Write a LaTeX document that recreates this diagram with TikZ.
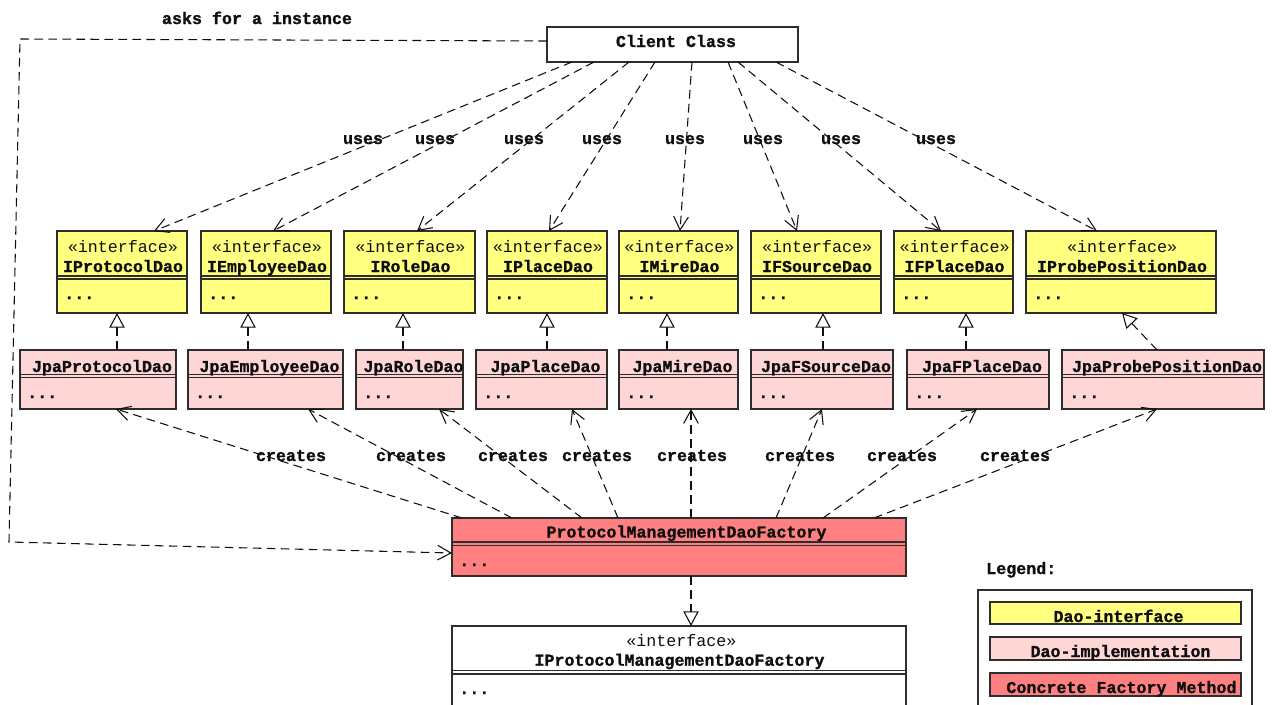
\documentclass[tikz,border=0pt]{standalone}
\usepackage{fontspec}
\setmonofont{Liberation Mono}[BoldFeatures={FakeBold=1.2}]
\usetikzlibrary{arrows.meta,calc,fit}

\definecolor{ifacefill}{RGB}{255,255,128}
\definecolor{implfill}{RGB}{255,214,214}
\definecolor{factfill}{RGB}{255,128,128}
\definecolor{framecol}{RGB}{45,45,45}
\definecolor{inkcol}{RGB}{15,15,15}

\tikzset{
  box/.style={draw=framecol, line width=1pt, inner sep=0pt, outer sep=0pt},
  sepline/.style={draw=framecol, line width=1pt},
  lbl/.style={font=\ttfamily\bfseries\fontsize{12.5pt}{14pt}\selectfont, text=inkcol, inner sep=0pt, anchor=base},
  stereo/.style={font=\ttfamily\fontsize{12.5pt}{14pt}\selectfont, text=inkcol, inner sep=0pt, anchor=base},
  dots/.style={lbl, anchor=base west},
  dep/.style={draw=inkcol, line width=0.8pt, dash pattern=on 6.5pt off 4pt,
    -{Straight Barb[length=10pt,width=11pt,line width=0.8pt]}},
  realize/.style={draw=inkcol, line width=0.8pt, dash pattern=on 6.5pt off 4pt,
    -{Triangle[length=11pt,width=11.5pt,fill=white,line width=0.8pt]}},
}

% interface box: name, left, right, class name
\newcommand\ifacebox[4]{%
  \node[box, fill=ifacefill, fit={(#2,231) (#3,313)}] (#1) {};
  \path[sepline] ($(#1.north west)+(0,45)$) -- ($(#1.north east)+(0,45)$)
                 ($(#1.north west)+(0,48)$) -- ($(#1.north east)+(0,48)$);
  \node[stereo] (#1-st) at ($(#1.north)+(1,21)$) {«interface»};
  \node[lbl] (#1-nm) at ($(#1.north)+(1,41)$) {#4};
  \node[dots] (#1-dt) at ($(#1.north west)+(7,68)$) {...};
}
% implementation box: name, left, right, class name
\newcommand\implbox[4]{%
  \node[box, fill=implfill, fit={(#2,350) (#3,409)}] (#1) {};
  \path[sepline] ($(#1.north west)+(0,24.5)$) -- ($(#1.north east)+(0,24.5)$)
                 ($(#1.north west)+(0,27.5)$) -- ($(#1.north east)+(0,27.5)$);
  \node[lbl] (#1-nm) at ($(#1.north)+(4,22)$) {#4};
  \node[dots] (#1-dt) at ($(#1.north west)+(7,48)$) {...};
}

\begin{document}
\begin{tikzpicture}[x=0.75pt,y=-0.75pt]
\useasboundingbox (0,0) rectangle (1278,704);
\clip (0,0) rectangle (1278,704);
\fill[white] (0,0) rectangle (1278,704);

% client
\node[box, fill=white, fit={(547,27) (798,62)}] (cc) {};
\node[lbl] (cc-nm) at ($(cc.north)+(3.5,20)$) {Client Class};

% interfaces
\ifacebox{i1}{57}{187}{IProtocolDao}
\ifacebox{i2}{201}{331}{IEmployeeDao}
\ifacebox{i3}{344}{475}{IRoleDao}
\ifacebox{i4}{487}{607}{IPlaceDao}
\ifacebox{i5}{619}{738}{IMireDao}
\ifacebox{i6}{751}{881}{IFSourceDao}
\ifacebox{i7}{894}{1013}{IFPlaceDao}
\ifacebox{i8}{1026}{1216}{IProbePositionDao}

% implementations
\implbox{m1}{20}{176}{JpaProtocolDao}
\implbox{m2}{188}{343}{JpaEmployeeDao}
\implbox{m3}{356}{463}{JpaRoleDao}
\implbox{m4}{476}{607}{JpaPlaceDao}
\implbox{m5}{619}{738}{JpaMireDao}
\implbox{m6}{751}{893}{JpaFSourceDao}
\implbox{m7}{907}{1049}{JpaFPlaceDao}
\implbox{m8}{1062}{1264}{JpaProbePositionDao}

% concrete factory
\node[box, fill=factfill, fit={(452,518) (906,576)}] (fac) {};
\path[sepline] ($(fac.north west)+(0,24)$) -- ($(fac.north east)+(0,24)$)
               ($(fac.north west)+(0,27.3)$) -- ($(fac.north east)+(0,27.3)$);
\node[lbl] (fac-nm) at ($(fac.north)+(7.5,19.5)$) {ProtocolManagementDaoFactory};
\node[dots] (fac-dt) at ($(fac.north west)+(7,48)$) {...};

% factory interface
\node[box, fill=white, fit={(452,626) (906,740)}] (ipm) {};
\path[sepline] ($(ipm.north west)+(0,44.7)$) -- ($(ipm.north east)+(0,44.7)$)
               ($(ipm.north west)+(0,48)$) -- ($(ipm.north east)+(0,48)$);
\node[stereo] (ipm-st) at ($(ipm.north)+(2.5,20.7)$) {«interface»};
\node[lbl] (ipm-nm) at ($(ipm.north)+(0.5,39.7)$) {IProtocolManagementDaoFactory};
\node[dots] (ipm-dt) at ($(ipm.north west)+(7,68)$) {...};

% legend
\node[lbl, anchor=base west] (lg-t) at (986,574) {Legend:};
\node[box, fill=white, fit={(978,590) (1252,740)}] (lg) {};
\node[box, fill=ifacefill, fit={(990,602) (1241,624)}] (lg1) {};
\node[box, fill=implfill, fit={(990,637) (1241,660)}] (lg2) {};
\node[box, fill=factfill, fit={(990,673) (1241,696)}] (lg3) {};
\node[lbl] (lg1-t) at ($(lg1.south)+(3,-2)$) {Dao-interface};
\node[lbl] (lg2-t) at ($(lg2.south)+(5,-3)$) {Dao-implementation};
\node[lbl] (lg3-t) at ($(lg3.south)+(6,-3)$) {Concrete Factory Method};

% client uses each dao interface
\foreach \n/\sx/\ex in {1/572/154, 2/594/273, 3/629/417, 4/655/549,
                        5/692/680, 6/728/797, 7/738/941, 8/776/1097}
  \draw[dep] (\sx,0 |- cc.south) -- (\ex,0 |- i\n.north);

% implementations realize interfaces
\foreach \n/\x in {1/117, 2/248, 3/403, 4/547, 5/667, 6/823, 7/966}
  \draw[realize] (\x,0 |- m\n.north) -- (\x,0 |- i\n.south);
\draw[realize] (1157,0 |- m8.north) -- (1122,0 |- i8.south);

% factory creates each implementation
\foreach \n/\sx/\ex in {1/462/116, 2/512/308, 3/582/439, 4/618/572,
                        5/691/691, 6/776/822, 7/823/977, 8/874/1157}
  \draw[dep] (\sx,0 |- fac.north) -- (\ex,0 |- m\n.south);

% factory realizes its interface
\draw[realize] (691,0 |- fac.south) -- (691,0 |- ipm.north);

% client asks the factory for an instance
\coordinate (askA) at (20,39);
\coordinate (askB) at (9,542);
\draw[dep] ($(cc.north west)+(0,14)$) -- (askA) -- (askB) -- ($(fac.north west)+(0,35)$);

% connector labels
\node[lbl] (ask-l) at (257,24) {asks for a instance};
\foreach \n/\x in {1/363, 2/435, 3/524, 4/602, 5/685, 6/763, 7/841, 8/936}
  \node[lbl] (use\n) at (\x,144) {uses};
\foreach \n/\x in {1/291, 2/411, 3/513, 4/597, 5/692, 6/800, 7/902, 8/1015}
  \node[lbl] (cre\n) at (\x,461) {creates};
\end{tikzpicture}
\end{document}
